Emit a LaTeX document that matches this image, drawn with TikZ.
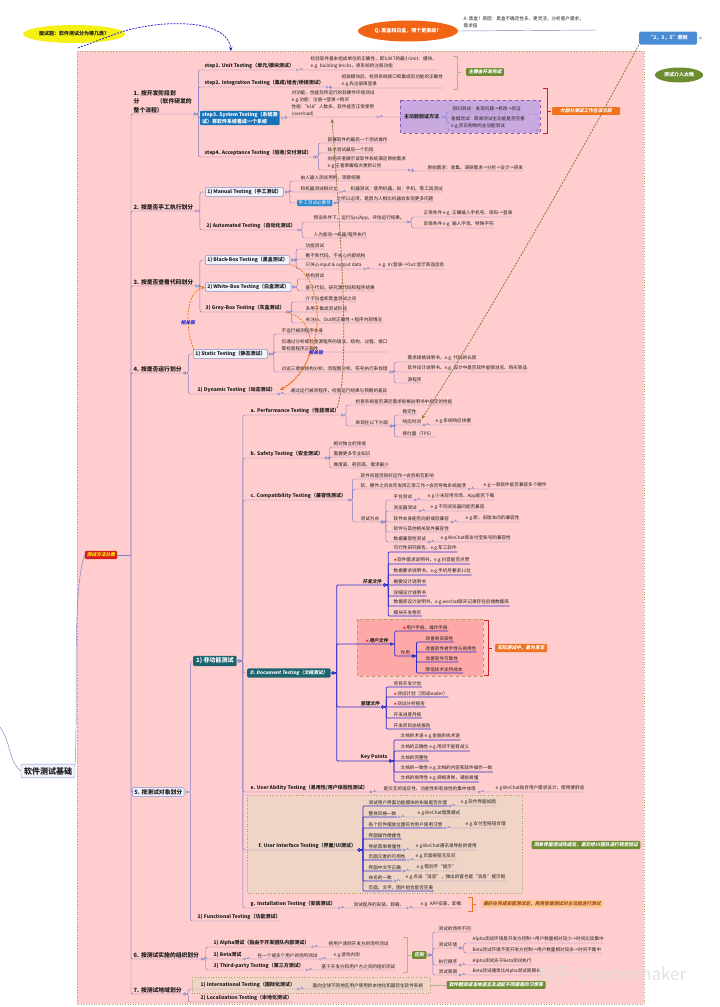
\documentclass[tikz,border=0pt]{standalone}
\usepackage{fontspec}
\setmainfont{Noto Sans CJK SC}
\newfontfamily\itf{Noto Sans CJK SC}[FakeSlant=0.2]
\newfontfamily\djv{DejaVu Sans}
\usetikzlibrary{arrows.meta,shapes.geometric}
\definecolor{pinkbg}{RGB}{255,205,205}
\definecolor{frame}{RGB}{170,160,110}
\definecolor{txt}{RGB}{30,30,30}
\definecolor{brc}{RGB}{125,125,200}
\definecolor{dbc}{RGB}{45,45,200}
\definecolor{lbd}{RGB}{130,145,205}
\definecolor{lbf}{RGB}{240,242,252}
\definecolor{teal1}{RGB}{28,100,112}
\definecolor{blue3}{RGB}{25,115,185}
\definecolor{purf}{RGB}{200,170,225}
\definecolor{purd}{RGB}{140,90,185}
\definecolor{orl}{RGB}{240,115,30}
\definecolor{grl}{RGB}{110,140,50}
\definecolor{yel}{RGB}{245,240,20}
\definecolor{orq}{RGB}{240,100,20}
\definecolor{bclr}{RGB}{75,140,215}
\definecolor{beige}{RGB}{240,212,198}
\definecolor{upink}{RGB}{255,168,168}
\definecolor{redb}{RGB}{215,30,30}
\definecolor{peach}{RGB}{252,200,150}
\definecolor{peachtxt}{RGB}{165,80,20}
\definecolor{olv}{RGB}{130,125,55}
\definecolor{ordash}{RGB}{235,125,35}
\definecolor{tipb}{RGB}{40,135,205}
\definecolor{rellab}{RGB}{40,40,220}
\definecolor{wmark}{RGB}{222,222,222}
\newcommand\szA{\fontsize{4.6}{6.9}\selectfont}
\newcommand\szB{\fontsize{5}{6.6}\selectfont\bfseries}
\newcommand\szC{\fontsize{5.8}{8.6}\selectfont\bfseries}
\newcommand\szI{\fontsize{4.7}{6}\selectfont\itf\bfseries}
\newcommand\rst{{\djv\color{red}\fontsize{4}{4}\selectfont ★}}
% text parent -> text child
\newcommand\ct[3][br]{\draw[#1] ([xshift=3.4pt]#2.south east) -- ++(2.6,0) |- (#3.south west) -- (#3.south east);\draw[#1,fill=white,rounded corners=0pt] ([xshift=2.3pt]#2.south east) circle (1.1pt);}
% box parent -> text child
\newcommand\cbt[3][br]{\draw[#1] ([xshift=3.4pt]#2.east) -- ++(2.6,0) |- (#3.south west) -- (#3.south east);\draw[#1,fill=white,rounded corners=0pt] ([xshift=2.3pt]#2.east) circle (1.1pt);}
% text parent -> box child
\newcommand\ctb[3][br]{\draw[#1] ([xshift=3.4pt]#2.south east) -- ++(2.6,0) |- (#3.west);\draw[#1,fill=white,rounded corners=0pt] ([xshift=2.3pt]#2.south east) circle (1.1pt);}
% box parent -> box child
\newcommand\cbb[3][br]{\draw[#1] ([xshift=3.4pt]#2.east) -- ++(2.6,0) |- (#3.west);\draw[#1,fill=white,rounded corners=0pt] ([xshift=2.3pt]#2.east) circle (1.1pt);}
\begin{document}
\begin{tikzpicture}[x=1pt,y=-1pt,
  t/.style={anchor=south west, inner xsep=0.5pt, inner ysep=0.8pt, font=\szA, text=txt, align=left},
  tb/.style={t, font=\szB},
  tc/.style={t, font=\szC},
  ti/.style={t, font=\szI},
  lbox/.style={anchor=west, draw=lbd, fill=lbf, rounded corners=1.2pt, inner xsep=2pt, inner ysep=1.6pt, font=\szB, text=txt, line width=0.5pt},
  tbox/.style={anchor=west, fill=teal1, rounded corners=1.2pt, inner xsep=3pt, inner ysep=2pt, text=white},
  br/.style={draw=brc, line width=0.45pt, rounded corners=2pt},
  dbr/.style={draw=dbc, line width=0.75pt, rounded corners=1pt},
  glab/.style={fill=grl, text=white, font=\szI, inner xsep=2.5pt, inner ysep=1.6pt, rounded corners=1pt},
  olab/.style={fill=orl, text=white, font=\szI, inner xsep=2.5pt, inner ysep=1.6pt, rounded corners=1pt},
  odash/.style={draw=ordash, line width=0.85pt, dash pattern=on 2pt off 1.2pt, -{Stealth[length=4pt,width=3.5pt]}},
  gdash/.style={draw=olv, line width=0.8pt, dash pattern=on 2pt off 1.2pt, -{Stealth[length=4pt,width=3.5pt,fill=grl]}},
  rellabel/.style={font=\szI, text=rellab},
]
\useasboundingbox (0,0) rectangle (720,1007);
% ---------- big pink container ----------
\fill[pinkbg] (77,51) rectangle (644,1004);
\draw[frame, line width=0.6pt, dotted] (77,51) rectangle (644,1004);

% ---------- top items ----------
\node[ellipse, fill=yel, minimum width=102pt, minimum height=18pt, inner sep=0pt, font=\szB, text=txt] (q1) at (74,34) {面试题：软件测试分为哪几类？};
\draw[draw={rgb,255:red,30;green,30;blue,200}, line width=0.75pt, dash pattern=on 2pt off 1.2pt, -{Stealth[length=4pt,width=3.5pt]}] (78,48) -- (118,33) .. controls (160,19) and (228,18) .. (231,51);
\node[ellipse, fill=orq, minimum width=100pt, minimum height=21pt, inner sep=0pt, font=\szB, text=white] (q2) at (408,31) {Q: 黑盒和白盒，哪个更高级？};
\node[t] (a2) at (463,29) {A: 黑盒！原因：黑盒不确定性多、更灵活、分析客户需求；\\需求值};
\draw[br] (q2.east) -- (597,30);
\node[fill=bclr, rounded corners=1.5pt, text=white, font=\szB, minimum width=58pt, minimum height=13pt, inner sep=1pt] (b235) at (668,38) {“2，3，5”原则};
\draw[br, fill=white] (700.5,38) circle (1.1pt);
\node[ellipse, fill=grl, text=white, font=\szB, minimum width=48pt, minimum height=15pt, inner sep=0pt] (late) at (679,75) {测试介入太晚};

% ---------- root ----------
\node[draw=lbd, fill=lbf, rounded corners=2pt, font=\fontsize{8}{9}\selectfont\bfseries, text=txt, inner sep=3pt] (root) at (48,771) {软件测试基础};
\node[fill=redb, text=yellow, font=\szI, rounded corners=1pt, inner xsep=2pt, inner ysep=1.8pt] (tmfl) at (101,555) {测试方法分类};
\draw[br] (root.north east) .. controls (78,700) and (72,590) .. (tmfl.west);
\draw[br] (0,727) .. controls (12,745) and (8,760) .. (root.west);
\draw[br] (tmfl.east) -- (131,555);

% ---------- categories ----------
\node[tc] (c1) at (133,114) {1. 按开发阶段划\\分\quad\quad\quad（软件研发的\\整个流程）};
\node[tc] (c2) at (133,211) {2. 按是否手工执行划分};
\node[tc] (c3) at (133,286) {3. 按是否查看代码划分};
\node[tc] (c4) at (133,373) {4. 按是否运行划分};
\node[lbox, font=\szC] (c5) at (132,792) {5. 按测试对象划分};
\node[tc] (c6) at (133,959) {6. 按测试实施的组织划分};
\node[tc] (c7) at (133,994) {7. 按测试地域划分};
\foreach \c in {c1,c2,c3,c4,c6,c7}{\draw[br] (131,555) |- (\c.south west) -- (\c.south east);}
\draw[br] (131,555) |- (c5.west);

% ---------- 1. development stages ----------
\node[tb] (s1) at (204,70) {step1. Unit Testing（单元/模块测试）};
\node[tb] (s2) at (204,87) {step2. Integration Testing（集成/组合/桥接测试）};
\node[anchor=west, fill=blue3, text=white, font=\szB, align=left, inner xsep=2pt, inner ysep=1.5pt, rounded corners=1pt] (s3) at (200,118) {step3. System Testing（系统测\\试）将软件系统看成一个系统};
\node[tb] (s4) at (204,157) {step4. Acceptance Testing（验收/交付测试）};
\ct{c1}{s1}\ct{c1}{s2}\ctb{c1}{s3}\ct{c1}{s4}
\node[t] (s1a) at (310,70) {检验软件基本组成单位的正确性，即S.W.T的最小Unit：模块、\\e.g. building bricks，原系统的注册功能};
\node[t] (s2a) at (341,88) {组装模块后，检测系统接口和集成后功能的正确性\\e.g.先注册再登录};
\ct{s1}{s1a}\ct{s2}{s2a}
\draw[grl!60!white, line width=0.8pt] (453,56) -- (457,56) -- (457,89) -- (453,89) (457,72) -- (461,72);
\node[glab] (g1) at (485,72) {主要由开发完成};
\node[t] (s3a) at (291,117) {对功能、性能及所运行的软硬件环境测试\\e.g.功能：注册->登录->购买\\性能:“618”人数多，软件能否正常使用\\(overload)};
\cbt{s3}{s3a}
\fill[purf] (400,100) rectangle (540,133);
\draw[purd, dashed, line width=0.5pt] (400,100) rectangle (540,133);
\node[anchor=west, font=\szB, text=txt, inner sep=1pt] (pvl) at (403,117) {主功能验证方法};
\ctb{s3a}{pvl}
\node[t] (rg) at (452,112) {回归测试：发现问题->修改->验证};
\draw[purd, dashed, rounded corners=2pt, line width=0.4pt] (448,114) rectangle (538,131);
\node[anchor=west, font=\szA, text=txt, align=left, inner sep=1pt] (smk) at (450,122.5) {冒烟测试：简单测试主功能是否完善\\e.g.京东购物的主功能测试};
\cbt{pvl}{rg}
\draw[br] ([xshift=3.4pt]pvl.east) -- ++(2.6,0) |- (448,122.5);
\draw[redb, line width=0.9pt] (543,88) -- (547,88) -- (547,133) -- (543,133) (547,111) -- (551,111);
\node[olab, minimum width=68pt] (o1) at (586,111) {大部分测试工作在该阶段};
\node[t] (s4a) at (327,143) {部署软件的最后一个测试操作};
\node[t] (s4b) at (327,153) {技术测试最后一个阶段};
\node[t] (s4c) at (327,170) {向购买者展示该软件系统满足原始需求\\e.g.王者荣耀每次更新公告};
\node[t] (s4d) at (427,171) {原始需求：收集、调研需求->分析->设计->研发};
\ct{s4}{s4a}\ct{s4}{s4b}\ct{s4}{s4c}\ct{s4c}{s4d}

% ---------- 2. manual / automated ----------
\node[lbox] (m1) at (205,192) {1) Manual Testing（手工测试）};
\node[tb] (m2) at (206,230) {2) Automated Testing（自动化测试）};
\ctb{c2}{m1}\ct{c2}{m2}
\node[t] (m1a) at (300,181) {由人输入测试用例，观察结果};
\node[t] (m1b) at (300,192) {和机器测试相对立};
\node[t] (m1b1) at (350,192) {机器测试：使用机器，如：手机、等工具测试};
\node[anchor=west, fill=tipb, text=white, font=\szA, inner xsep=1.5pt, inner ysep=1pt, rounded corners=1pt] (m1c) at (297,203) {手工测试必要性};
\node[t] (m1c1) at (336,202) {之所以必须，是因为人相比机器会发现更多问题};
\cbt{m1}{m1a}\cbt{m1}{m1b}\cbb{m1}{m1c}\ct{m1b}{m1b1}\cbt{m1c}{m1c1}
\node[t] (m2a) at (313,222) {预设条件下，运行Sys/App，评估运行结果。};
\node[t] (m2a1) at (423,217) {正常条件 e.g. 正确输入手机号、密码-->登录};
\node[t] (m2a2) at (423,228) {异常条件 e.g. 输入字母、特殊字符};
\node[t] (m2b) at (313,238) {人为驱动-->机器/程序执行};
\ct{m2}{m2a}\ct{m2}{m2b}\ct{m2a}{m2a1}\ct{m2a}{m2a2}

% ---------- 3. code visibility ----------
\node[lbox] (bb) at (205,260) {1) Black-Box Testing（黑盒测试）};
\node[lbox] (wb) at (205,287) {2) White-Box Testing（白盒测试）};
\node[tb] (gb) at (205,312) {3) Grey-Box Testing（灰盒测试）};
\ctb{c3}{bb}\ctb{c3}{wb}\ct{c3}{gb}
\node[t] (bb1) at (305,249) {功能测试};
\node[t] (bb2) at (305,259) {看不到代码，不关心内部结构};
\node[t] (bb3) at (305,269) {只关心input \& output data};
\node[t] (bb3a) at (378,269) {e.g. In:登录-->Out:显示商品信息};
\cbt{bb}{bb1}\cbt{bb}{bb2}\cbt{bb}{bb3}\ct{bb3}{bb3a}
\node[t] (wb1) at (305,279) {结构测试};
\node[t] (wb2) at (305,291) {基于代码，研究源代码和程序结果};
\cbt{wb}{wb1}\cbt{wb}{wb2}
\node[t] (gb1) at (305,302) {介于白盒和黑盒测试之间};
\node[t] (gb2) at (305,312) {多用于集成测试阶段};
\node[t] (gb3) at (305,323) {关注In、Out的正确性 + 程序内部情况};
\ct{gb}{gb1}\ct{gb}{gb2}\ct{gb}{gb3}

% ---------- 4. run or not ----------
\node[lbox] (st) at (193,354) {1) Static Testing（静态测试）};
\node[tb] (dy) at (197,394) {2) Dynamic Testing（动态测试）};
\ctb{c4}{st}\ct{c4}{dy}
\node[t] (st1) at (281,334) {不运行被测程序本身};
\node[t] (st2) at (281,352) {仅通过分析或检查源程序的语法、结构、过程、接口\\等检查程序正确性};
\node[t] (st3) at (281,372) {对这三者做结构分析、流程图分析、符号执行来找错};
\node[t] (st3a) at (407,362) {需求规格说明书，e.g. 代码的长度};
\node[t] (st3b) at (407,372) {软件设计说明书，e.g. 设计中是否软件能够浏览、购买商品};
\node[t] (st3c) at (407,383) {源程序};
\cbt{st}{st1}\cbt{st}{st2}\cbt{st}{st3}\ct{st3}{st3a}\ct{st3}{st3b}\ct{st3}{st3c}
\node[t] (dy1) at (290,394) {通过运行被测程序，检查运行结果与预期的差异};
\ct{dy}{dy1}

% ---------- 5. test objects ----------
\node[tbox, font=\fontsize{6}{7}\selectfont\bfseries] (nf) at (193,661) {1) 非功能测试};
\node[tb] (fn) at (197,921) {2) Functional Testing（功能测试）};
\cbb{c5}{nf}\cbt{c5}{fn}
\node[tb] (pf) at (250,415) {a. Performance Testing（性能测试）};
\node[tb] (sf) at (250,458) {b. Safety Testing（安全测试）};
\node[tb] (cp) at (250,500) {c. Compatibility Testing（兼容性测试）};
\node[tbox, font=\szI] (dt) at (247,673) {D. Document Testing（文档测试）};
\node[tb] (ua) at (250,792) {e. User Ability Testing（易用性/用户体验性测试）};
\fill[beige] (247,795) rectangle (522,893);
\draw[frame, dotted, line width=0.6pt] (247,795) rectangle (522,893);
\node[tb] (ui) at (258,850) {f. User Interface Testing（界面/UI测试）};
\node[tb] (it) at (250,908) {g. Installation Testing（安装测试）};
\cbt{nf}{pf}\cbt{nf}{sf}\cbt{nf}{cp}\cbb{nf}{dt}\cbt{nf}{ua}\cbt{nf}{ui}\cbt{nf}{it}
% performance
\node[t] (pf1) at (355,405) {检查系统是否满足需求规格说明书中规定的性能};
\node[t] (pf2) at (355,426) {表现在以下方面};
\node[t] (pf2a) at (402,415) {稳定性};
\node[t] (pf2b) at (402,425) {响应时间};
\node[t] (pf2b1) at (435,425) {e.g.系统响应快慢};
\node[t] (pf2c) at (402,437) {吞吐量（TPS）};
\ct{pf}{pf1}\ct{pf}{pf2}\ct{pf2}{pf2a}\ct{pf2}{pf2b}\ct{pf2}{pf2c}\ct{pf2b}{pf2b1}
% safety
\node[t] (sf1) at (333,447) {相对独立的领域};
\node[t] (sf2) at (333,457) {需要更多专业知识};
\node[t] (sf3) at (333,468) {难度高、耗资高、需求最少};
\ct{sf}{sf1}\ct{sf}{sf2}\ct{sf}{sf3}
% compatibility
\node[t] (cp1) at (360,479) {软件间能否很好运作->会否相互影响};
\node[t] (cp2) at (360,489) {软、硬件之间会否发挥正常工作->会否导致系统崩溃};
\node[t] (cp2a) at (483,489) {e.g.一款软件能否兼容多个硬件};
\node[t] (cp3) at (360,522) {测试方向};
\node[t] (cp3a) at (393,500) {平台测试};
\node[t] (cp3a1) at (427,500) {e.g.小米应用市场、App能否下载};
\node[t] (cp3b) at (393,511) {浏览器测试};
\node[t] (cp3b1) at (430,511) {e.g.不同浏览器间能否兼容};
\node[t] (cp3c) at (393,522) {软件本身能否向前或后兼容};
\node[t] (cp3c1) at (465,522) {e.g.新、旧版本间的兼容性};
\node[t] (cp3d) at (393,532) {软件与其他相关软件兼容性};
\node[t] (cp3e) at (393,542) {数据兼容性测试};
\node[t] (cp3e1) at (440,542) {e.g.WeChat和支付宝账号的兼容性};
\ct{cp}{cp1}\ct{cp}{cp2}\ct{cp}{cp3}\ct{cp2}{cp2a}
\ct{cp3}{cp3a}\ct{cp3}{cp3b}\ct{cp3}{cp3c}\ct{cp3}{cp3d}\ct{cp3}{cp3e}
\ct{cp3a}{cp3a1}\ct{cp3b}{cp3b1}\ct{cp3c}{cp3c1}\ct{cp3e}{cp3e1}
% documents
\node[ti] (dv) at (362,585) {开发文件};
\node[t] (dv1) at (393,552) {可行性研究报告，e.g.军工软件};
\node[t] (dv2) at (393,564) {\rst 软件需求说明书，e.g.抖音能否点赞};
\node[t] (dv3) at (393,575) {数据要求说明书，e.g.手机号要求11位};
\node[t] (dv4) at (393,585) {概要设计说明书};
\node[t] (dv5) at (393,596) {详细设计说明书};
\node[t] (dv6) at (393,606) {数据库设计说明书，e.g.wechat聊天记录存在后端数据库};
\node[t] (dv7) at (393,616) {模块开发卷宗};
\fill[upink] (357,619) rectangle (483,676);
\draw[frame, dashed, line width=0.5pt] (357,619) rectangle (483,676);
\node[ti] (us) at (365,644) {\rst 用户文件};
\node[t] (us1) at (402,631) {\rst 用户手册、操作手册};
\node[t] (us2) at (400,656) {作用};
\node[t] (us2a) at (425,642) {改善易安装性};
\node[t] (us2b) at (425,652) {改善软件易学性与易用性};
\node[t] (us2c) at (425,662) {改善软件可靠性};
\node[t] (us2d) at (425,673) {降低技术支持成本};
\node[ti] (mg) at (360,707) {管理文件};
\node[t] (mg1) at (393,687) {项目开发计划};
\node[t] (mg2) at (393,697) {\rst 测试计划（测试leader）};
\node[t] (mg3) at (393,707) {\rst 测试分析报告};
\node[t] (mg4) at (393,718) {开发进度月报};
\node[t] (mg5) at (393,729) {开发项目总结报告};
\node[tb] (kp) at (360,761) {Key Points};
\node[t] (kp1) at (400,740) {文档的术语 e.g.金融系统术语};
\node[t] (kp2) at (400,751) {文档的正确性 e.g.用词不能有歧义};
\node[t] (kp3) at (400,761) {文档的完整性};
\node[t] (kp4) at (400,772) {文档的一致性 e.g.文档的内容和软件操作一致};
\node[t] (kp5) at (400,782) {文档的易用性 e.g.规格清晰，通俗易懂};
\cbt[dbr]{dt}{dv}\cbt[dbr]{dt}{us}\cbt[dbr]{dt}{mg}\cbt[dbr]{dt}{kp}
\foreach \n in {dv1,dv2,dv3,dv4,dv5,dv6,dv7}{\ct[dbr]{dv}{\n}}
\ct[dbr]{us}{us1}\ct[dbr]{us}{us2}
\foreach \n in {us2a,us2b,us2c,us2d}{\ct[dbr]{us2}{\n}}
\foreach \n in {mg1,mg2,mg3,mg4,mg5}{\ct[dbr]{mg}{\n}}
\foreach \n in {kp1,kp2,kp3,kp4,kp5}{\ct[dbr]{kp}{\n}}
\draw[redb, line width=0.9pt] (484,620) -- (488,620) -- (488,675) -- (484,675) (488,648) -- (492,648);
\node[olab] (o2) at (521,648) {实际测试中，最为常见};
% usability
\node[t] (ua1) at (383,792) {是交互的适应性、功能性和有效性的集中体现};
\node[t] (ua1a) at (495,792) {e.g.WeChat贴合用户需求设计，使用便舒适};
\ct{ua}{ua1}\ct{ua1}{ua1a}
% UI
\node[t] (ui1) at (368,806) {测试用户界面功能模块的布局是否合理};
\node[t] (ui1a) at (460,806) {e.g.软件界面如图};
\node[t] (ui2) at (368,817) {整体风格一致};
\node[t] (ui2a) at (417,817) {e.g.WeChat暗黑模式};
\node[t] (ui3) at (368,828) {各个控件摆放位置符合用户使用习惯};
\node[t] (ui3a) at (465,828) {e.g.支付宝按钮合理};
\node[t] (ui4) at (368,839) {界面操作便捷性};
\node[t] (ui5) at (368,850) {导航菜单易懂性};
\node[t] (ui5a) at (415,850) {e.g.WeChat通讯录导航的使用};
\node[t] (ui6) at (368,860) {页面元素的可用性};
\node[t] (ui6a) at (415,860) {e.g.页面按钮无反应};
\node[t] (ui7) at (368,871) {界面中文字正确};
\node[t] (ui7a) at (416,871) {e.g.错别字“提示”};
\node[t] (ui8) at (368,881) {命名的一致};
\node[t] (ui8a) at (405,881) {e.g.点击“消息”，弹出的窗也是“消息”提示框};
\node[t] (ui9) at (368,891) {页面、文字、图片组合是否完美};
\foreach \n in {ui1,ui2,ui3,ui4,ui5,ui6,ui7,ui8,ui9}{\ct[dbr]{ui}{\n}}
\ct{ui1}{ui1a}\ct{ui2}{ui2a}\ct{ui3}{ui3a}\ct{ui5}{ui5a}\ct{ui6}{ui6a}\ct{ui7}{ui7a}\ct{ui8}{ui8a}
\node[glab] (g2) at (586,845) {简单界面测试完成后，是交给UI团队进行视觉验证};
% installation
\node[t] (it1) at (353,908) {测试程序的安装、卸载、};
\node[t] (it1a) at (420,908) {e.g. APP安装、卸载};
\ct{it}{it1}\ct{it1}{it1a}
\draw[orl, line width=0.9pt] (468,897) -- (472,897) -- (472,911) -- (468,911) (472,904) -- (476,904);
\node[fill=peach, text=peachtxt, font=\szI, inner xsep=2.5pt, inner ysep=1.6pt] (o3) at (542,904) {最好在完成安装测试后，再用冒烟测试对主功能进行测试};

% ---------- 6. organisation ----------
\node[tb] (al) at (213,947) {1) Alpha测试（指由于开发团队内部测试）};
\node[tb] (be) at (213,959) {2) Beta测试};
\node[tb] (tp) at (213,970) {3) Third-party Testing（第三方测试）};
\ct{c6}{al}\ct{c6}{be}\ct{c6}{tp}
\node[t] (al1) at (328,947) {把用户请到开发方的场所测试};
\node[t] (be1) at (257,959) {在一个或多个用户的场所测试};
\node[t] (be1a) at (333,959) {e.g.游戏内测};
\node[t] (tp1) at (321,970) {基于开发方和用户方之间的组织测试};
\ct{al}{al1}\ct{be}{be1}\ct{be1}{be1a}\ct{tp}{tp1}
\draw[grl!60!white, line width=0.8pt] (403,937) -- (407,937) -- (407,972) -- (403,972) (407,955) -- (411,955);
\node[glab, anchor=west] (qb) at (412,955) {区别};
\node[t] (qb1) at (438,932) {测试的场所不同};
\node[t] (qb2) at (438,948) {测试环境};
\node[t] (qb2a) at (472,943) {Alpha测试环境是开发方控制->用户数量相对较少->时间比较集中};
\node[t] (qb2b) at (472,953) {Beta测试环境不受开发方控制->用户数量相对较多->时间不集中};
\node[t] (qb3) at (438,965) {执行顺序};
\node[t] (qb3a) at (472,965) {Alpha测试先于Beta测试执行};
\node[t] (qb4) at (438,975) {测试周期};
\node[t] (qb4a) at (472,975) {Beta测试通常比Alpha测试周期长};
\cbt{qb}{qb1}\cbt{qb}{qb2}\cbt{qb}{qb3}\cbt{qb}{qb4}
\ct{qb2}{qb2a}\ct{qb2}{qb2b}\ct{qb3}{qb3a}\ct{qb4}{qb4a}

% ---------- 7. region ----------
\fill[beige] (192,977) rectangle (430,993);
\draw[frame, dotted, line width=0.6pt] (192,977) rectangle (430,993);
\node[tb] (in) at (200,989) {1) International Testing（国际化测试）};
\node[tb] (lo) at (200,1002) {2) Localization Testing（本地化测试）};
\ct{c7}{in}\ct{c7}{lo}
\node[t] (in1) at (312,989) {面向全球不同地区用户使用的本地化和国际化软件系统};
\ct{in}{in1}
\node[glab] (g3) at (496,985) {软件翻译成当地语言及适配不同国家的习惯等};
\draw[grl!60!white, line width=0.8pt] (431,985) -- (g3.west);

% ---------- cross links ----------
\draw[odash] (194,350) .. controls (184,325) and (186,292) .. (wb.west);
\node[rellabel] (rel1) at (188,323) {相关联};
\draw[odash] (bb.south east) .. controls (325,272) and (330,360) .. (280,390);
\draw[odash] (gb.south east) .. controls (320,318) and (318,370) .. (280,390);
\node[rellabel] (rel2) at (316,353) {相关联};
\draw[gdash] (337,408) .. controls (350,370) and (342,250) .. (332,119);
\draw[gdash] (b235.south west) .. controls (600,120) and (480,330) .. (pf2b.north east);

% ---------- watermark ----------
\node[text=wmark, opacity=0.9, font=\fontsize{17}{18}\selectfont] (wm) at (612,975) {知乎 @pacermaker};
\end{tikzpicture}
\end{document}
